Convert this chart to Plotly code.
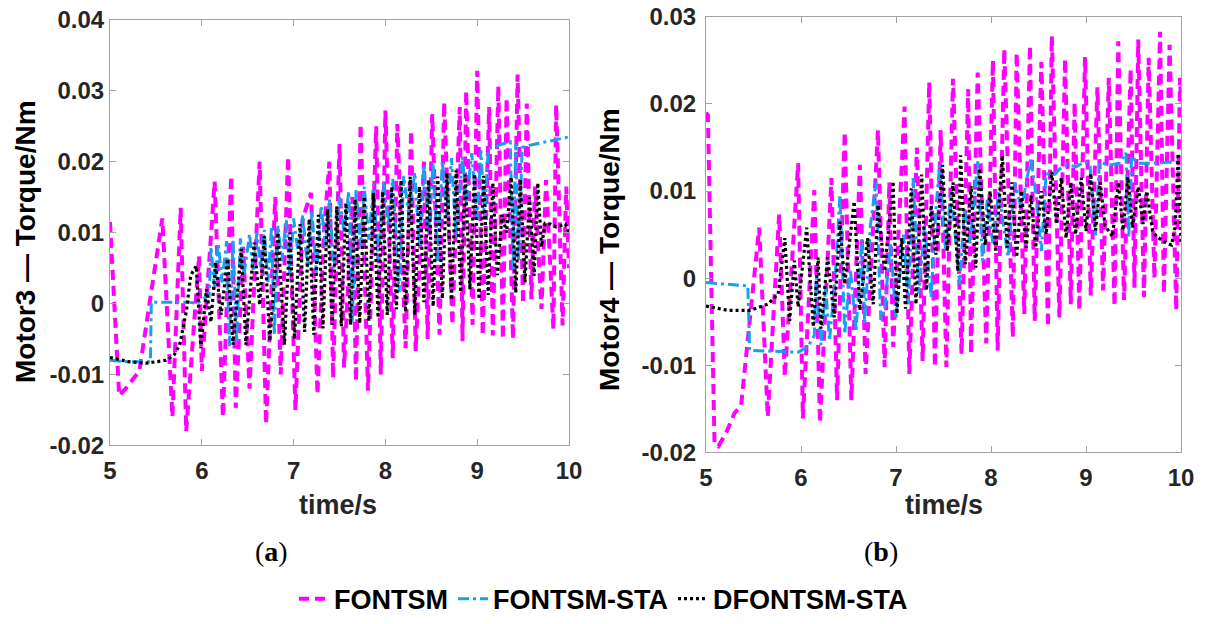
import plotly.graph_objects as go

# --- Data: (time [s], torque [Nm]) turning points ---

# Motor3 (a)
fontsm_m3 = [
    (5.00, 0.0115), (5.06, -0.0040), (5.10, -0.0130), (5.17, -0.0120), (5.32, -0.0095),
    (5.57, 0.0120), (5.68, -0.0160), (5.77, 0.0135), (5.83, -0.0180), (5.97, 0.0067),
    (6.00, -0.0095), (6.14, 0.0172), (6.23, -0.0160), (6.32, 0.0180), (6.37, -0.0147),
    (6.45, 0.0080), (6.52, -0.0120), (6.63, 0.0200), (6.70, -0.0170), (6.80, 0.0150),
    (6.86, -0.0100), (6.94, 0.0207), (7.02, -0.0150), (7.10, 0.0120), (7.19, 0.0156),
    (7.26, -0.0128), (7.33, 0.0100), (7.39, 0.0200), (7.43, -0.0105), (7.50, 0.0225),
    (7.55, -0.0090), (7.64, 0.0150), (7.68, -0.0110), (7.73, 0.0253), (7.81, -0.0123),
    (7.90, 0.0250), (7.95, -0.0100), (8.00, 0.0272), (8.08, -0.0077), (8.13, 0.0253),
    (8.22, -0.0063), (8.28, 0.0244), (8.33, -0.0067), (8.42, 0.0200), (8.46, -0.0050),
    (8.51, 0.0267), (8.59, -0.0044), (8.64, 0.0284), (8.73, -0.0030), (8.81, 0.0277),
    (8.84, -0.0053), (8.88, 0.0300), (8.95, -0.0030), (9.00, 0.0328), (9.06, -0.0045),
    (9.13, 0.0277), (9.17, -0.0045), (9.23, 0.0307), (9.28, -0.0050), (9.32, 0.0290),
    (9.39, -0.0050), (9.44, 0.0323), (9.50, 0.0000), (9.54, 0.0282), (9.59, 0.0006),
    (9.63, 0.0165), (9.70, -0.0008), (9.75, 0.0174), (9.83, -0.0036), (9.86, 0.0280),
    (9.93, -0.0031), (9.97, 0.0165), (10.00, 0.0050),
]
sta_m3 = [
    (5.00, -0.0080), (5.20, -0.0082), (5.44, -0.0082), (5.45, 0.0002), (5.86, 0.0002),
    (5.95, 0.0000), (6.05, 0.0010), (6.08, 0.0010), (6.10, 0.0080), (6.14, 0.0020),
    (6.18, 0.0085), (6.22, 0.0030), (6.27, 0.0088), (6.30, -0.0060), (6.34, 0.0090),
    (6.38, -0.0055), (6.42, 0.0092), (6.46, 0.0040), (6.52, 0.0098), (6.56, 0.0045),
    (6.60, 0.0100), (6.64, 0.0050), (6.68, 0.0104), (6.72, 0.0030), (6.76, 0.0108),
    (6.79, -0.0044), (6.83, 0.0110), (6.87, 0.0060), (6.92, 0.0118), (6.96, 0.0040),
    (7.00, 0.0120), (7.05, 0.0070), (7.10, 0.0125), (7.15, 0.0050), (7.20, 0.0130),
    (7.25, 0.0040), (7.30, 0.0138), (7.35, 0.0080), (7.39, 0.0147), (7.44, 0.0050),
    (7.50, 0.0150), (7.55, 0.0100), (7.60, 0.0158), (7.64, -0.0026), (7.68, 0.0160),
    (7.73, 0.0080), (7.77, 0.0165), (7.82, 0.0090), (7.87, 0.0168), (7.92, 0.0060),
    (7.98, 0.0172), (8.03, 0.0110), (8.08, 0.0176), (8.15, 0.0016), (8.20, 0.0180),
    (8.26, 0.0120), (8.32, 0.0185), (8.37, 0.0080), (8.42, 0.0195), (8.47, 0.0100),
    (8.52, 0.0198), (8.57, 0.0060), (8.62, 0.0200), (8.67, 0.0120), (8.72, 0.0205),
    (8.77, 0.0090), (8.84, 0.0207), (8.88, 0.0140), (8.94, 0.0212), (9.00, 0.0118),
    (9.04, 0.0216), (9.08, 0.0120), (9.12, 0.0218), (9.20, 0.0222), (9.30, 0.0226),
    (9.36, 0.0228), (9.39, 0.0048), (9.42, 0.0225), (9.45, 0.0060), (9.49, 0.0220),
    (9.60, 0.0224), (9.75, 0.0228), (9.90, 0.0232), (10.00, 0.0235),
]
dsta_m3 = [
    (5.00, -0.0076), (5.20, -0.0082), (5.40, -0.0084), (5.61, -0.0080), (5.70, -0.0072),
    (5.76, -0.0058), (5.83, -0.0012), (5.88, 0.0040), (5.94, 0.0053), (5.99, -0.0063),
    (6.05, 0.0020), (6.10, -0.0026), (6.15, 0.0058), (6.21, -0.0016), (6.28, 0.0063),
    (6.34, -0.0058), (6.43, 0.0077), (6.48, -0.0058), (6.57, 0.0086), (6.63, -0.0002),
    (6.68, 0.0095), (6.74, -0.0053), (6.83, 0.0100), (6.90, -0.0058), (6.96, 0.0100),
    (7.01, -0.0050), (7.07, 0.0112), (7.12, -0.0040), (7.17, 0.0119), (7.22, -0.0044),
    (7.27, 0.0125), (7.32, -0.0035), (7.37, 0.0133), (7.42, -0.0030), (7.47, 0.0137),
    (7.52, -0.0032), (7.57, 0.0142), (7.62, -0.0030), (7.67, 0.0147), (7.72, -0.0028),
    (7.77, 0.0151), (7.82, -0.0025), (7.87, 0.0156), (7.92, -0.0020), (7.97, 0.0158),
    (8.02, -0.0016), (8.07, 0.0165), (8.12, -0.0008), (8.17, 0.0174), (8.22, -0.0012),
    (8.27, 0.0179), (8.32, -0.0016), (8.37, 0.0165), (8.42, 0.0002), (8.47, 0.0174),
    (8.52, -0.0004), (8.57, 0.0179), (8.62, 0.0007), (8.67, 0.0184), (8.72, 0.0005),
    (8.77, 0.0188), (8.82, 0.0016), (8.87, 0.0182), (8.92, 0.0020), (8.97, 0.0183),
    (9.02, 0.0006), (9.07, 0.0180), (9.12, 0.0012), (9.17, 0.0170), (9.22, 0.0040),
    (9.27, 0.0125), (9.32, 0.0100), (9.37, 0.0178), (9.42, 0.0015), (9.47, 0.0175),
    (9.52, 0.0030), (9.57, 0.0150), (9.62, 0.0039), (9.66, 0.0170), (9.70, 0.0080),
    (9.74, 0.0113), (9.80, 0.0112), (9.86, 0.0108), (9.92, 0.0110), (9.96, 0.0112),
    (10.00, 0.0100),
]

# Motor4 (b)
fontsm_m4 = [
    (5.00, 0.0190), (5.02, 0.0187), (5.09, -0.0190), (5.13, -0.0193), (5.21, -0.0178),
    (5.30, -0.0155), (5.37, -0.0146), (5.56, 0.0058), (5.65, -0.0159), (5.77, 0.0073),
    (5.83, -0.0113), (5.97, 0.0132), (6.02, -0.0161), (6.14, 0.0101), (6.20, -0.0166),
    (6.32, 0.0115), (6.38, -0.0140), (6.46, 0.0168), (6.53, -0.0140), (6.62, 0.0130),
    (6.68, -0.0110), (6.81, 0.0170), (6.88, -0.0102), (6.93, 0.0110), (6.97, -0.0079),
    (7.09, 0.0197), (7.14, -0.0110), (7.22, 0.0150), (7.28, -0.0095), (7.35, 0.0225),
    (7.41, -0.0102), (7.47, 0.0170), (7.53, -0.0102), (7.60, 0.0229), (7.69, -0.0087),
    (7.76, 0.0217), (7.79, -0.0087), (7.86, 0.0236), (7.95, -0.0075), (8.02, 0.0250),
    (8.07, -0.0083), (8.14, 0.0263), (8.23, -0.0068), (8.27, 0.0259), (8.35, -0.0041),
    (8.41, 0.0267), (8.46, -0.0049), (8.53, 0.0248), (8.60, -0.0056), (8.64, 0.0278),
    (8.72, -0.0045), (8.78, 0.0252), (8.84, -0.0030), (8.88, 0.0202), (8.93, -0.0037),
    (8.99, 0.0254), (9.05, -0.0020), (9.12, 0.0219), (9.18, -0.0014), (9.24, 0.0230),
    (9.30, -0.0032), (9.34, 0.0272), (9.40, -0.0025), (9.47, 0.0240), (9.51, -0.0011),
    (9.55, 0.0274), (9.61, -0.0022), (9.66, 0.0253), (9.72, 0.0000), (9.78, 0.0283),
    (9.82, -0.0018), (9.88, 0.0268), (9.95, -0.0037), (9.99, 0.0230), (10.00, 0.0200),
]
sta_m4 = [
    (5.00, -0.0005), (5.44, -0.0009), (5.46, -0.0083), (5.97, -0.0085), (6.07, -0.0079),
    (6.14, -0.0066), (6.16, 0.0000), (6.21, -0.0077), (6.26, -0.0010), (6.30, -0.0072),
    (6.36, 0.0000), (6.41, 0.0096), (6.46, -0.0064), (6.52, 0.0010), (6.58, -0.0060),
    (6.64, 0.0045), (6.67, -0.0052), (6.73, 0.0060), (6.79, 0.0111), (6.84, -0.0048),
    (6.88, -0.0037), (6.94, 0.0040), (7.00, -0.0045), (7.08, 0.0050), (7.13, -0.0030),
    (7.18, 0.0115), (7.24, -0.0018), (7.30, 0.0060), (7.37, -0.0022), (7.42, 0.0080),
    (7.46, 0.0130), (7.52, 0.0034), (7.58, 0.0100), (7.67, -0.0007), (7.72, 0.0080),
    (7.78, 0.0040), (7.86, 0.0134), (7.91, 0.0020), (7.96, 0.0090), (8.02, 0.0040),
    (8.08, 0.0100), (8.18, 0.0024), (8.25, 0.0110), (8.32, 0.0080), (8.42, 0.0138),
    (8.48, 0.0090), (8.53, 0.0031), (8.58, 0.0120), (8.67, 0.0119), (8.72, 0.0125),
    (8.80, 0.0130), (8.90, 0.0128), (8.97, 0.0133), (9.04, 0.0132), (9.10, 0.0049),
    (9.14, 0.0133), (9.25, 0.0130), (9.35, 0.0132), (9.42, 0.0144), (9.45, 0.0047),
    (9.48, 0.0140), (9.55, 0.0132), (9.70, 0.0132), (9.85, 0.0133), (10.00, 0.0133),
]
dsta_m4 = [
    (5.00, -0.0032), (5.23, -0.0037), (5.46, -0.0037), (5.65, -0.0030), (5.76, -0.0018),
    (5.83, 0.0046), (5.88, -0.0049), (5.93, 0.0020), (5.97, -0.0033), (6.06, 0.0058),
    (6.13, -0.0056), (6.18, 0.0024), (6.21, -0.0058), (6.28, 0.0024), (6.35, -0.0045),
    (6.41, 0.0065), (6.46, -0.0007), (6.56, 0.0088), (6.62, -0.0037), (6.70, 0.0046),
    (6.76, -0.0030), (6.81, 0.0084), (6.88, 0.0008), (6.97, 0.0111), (7.01, -0.0041),
    (7.06, 0.0046), (7.10, -0.0035), (7.16, 0.0103), (7.21, -0.0030), (7.27, 0.0119),
    (7.32, -0.0014), (7.37, 0.0084), (7.42, 0.0027), (7.49, 0.0130), (7.54, 0.0031),
    (7.60, 0.0110), (7.65, 0.0008), (7.68, 0.0141), (7.73, 0.0016), (7.79, 0.0106),
    (7.84, 0.0012), (7.88, 0.0126), (7.94, 0.0038), (7.99, 0.0100), (8.05, 0.0030),
    (8.12, 0.0141), (8.17, 0.0035), (8.22, 0.0110), (8.27, 0.0024), (8.32, 0.0100),
    (8.37, 0.0035), (8.42, 0.0095), (8.47, 0.0035), (8.53, 0.0100), (8.58, 0.0050),
    (8.64, 0.0122), (8.69, 0.0062), (8.74, 0.0115), (8.79, 0.0046), (8.84, 0.0110),
    (8.89, 0.0050), (8.95, 0.0115), (9.00, 0.0054), (9.05, 0.0120), (9.10, 0.0055),
    (9.15, 0.0110), (9.20, 0.0060), (9.28, 0.0048), (9.34, 0.0110), (9.39, 0.0055),
    (9.44, 0.0116), (9.49, 0.0058), (9.55, 0.0105), (9.60, 0.0062), (9.64, 0.0100),
    (9.70, 0.0055), (9.74, 0.0048), (9.85, 0.0040), (9.90, 0.0038), (9.94, 0.0060),
    (9.97, 0.0143), (10.00, 0.0040),
]

series_names = ["FONTSM", "FONTSM-STA", "DFONTSM-STA"]
x_ticks = [5, 6, 7, 8, 9, 10]
y_ticks_a = [-0.02, -0.01, 0, 0.01, 0.02, 0.03, 0.04]
y_text_a = ["-0.02", "-0.01", "0", "0.01", "0.02", "0.03", "0.04"]
y_ticks_b = [-0.02, -0.01, 0, 0.01, 0.02, 0.03]
y_text_b = ["-0.02", "-0.01", "0", "0.01", "0.02", "0.03"]

# --- Styles ---
W, H = 1207, 624
styles = [
    dict(color="#ff00ff", width=4, dash="10px,6px"),
    dict(color="#1a9ff0", width=3, dash="11px,4px,3px,4px"),
    dict(color="#000000", width=3.2, dash="3px,3px"),
]
sans = "Liberation Sans, Arial, sans-serif"
grey_txt = "#262626"
frame = "#a3a3a3"

fig = go.Figure()

for panel, data in enumerate([[fontsm_m3, sta_m3, dsta_m3], [fontsm_m4, sta_m4, dsta_m4]]):
    suffix = "" if panel == 0 else "2"
    for name, pts, st in zip(series_names, data, styles):
        fig.add_trace(go.Scatter(
            x=[p[0] for p in pts],
            y=[p[1] for p in pts],
            mode="lines",
            name=name,
            legendgroup=name,
            showlegend=(panel == 0),
            line=st,
            xaxis="x" + suffix,
            yaxis="y" + suffix,
        ))


def px_dom(a, b, total):
    return [a / total, b / total]


axis_common = dict(
    showgrid=False, zeroline=False, showline=True, mirror="ticks",
    linecolor=frame, linewidth=1, ticks="inside", ticklen=6, tickcolor=frame,
    tickfont=dict(family=sans, size=24, color=grey_txt, weight="bold"),
)

fig.update_layout(
    template="none",
    width=W, height=H,
    margin=dict(l=0, r=0, t=0, b=0),
    paper_bgcolor="white", plot_bgcolor="white",
    showlegend=True,
    xaxis=dict(domain=px_dom(110, 569, W), range=[5, 10], tickvals=x_ticks,
               anchor="y", ticklabelstandoff=4, **axis_common),
    yaxis=dict(domain=[(H - 449) / H, (H - 20) / H], range=[-0.02, 0.04],
               tickvals=y_ticks_a, ticktext=y_text_a, anchor="x",
               ticklabelstandoff=0, **axis_common),
    xaxis2=dict(domain=px_dom(706, 1181, W), range=[5, 10], tickvals=x_ticks,
                anchor="y2", ticklabelstandoff=4, **axis_common),
    yaxis2=dict(domain=[(H - 456) / H, (H - 17) / H], range=[-0.02, 0.03],
                tickvals=y_ticks_b, ticktext=y_text_b, anchor="x2",
                ticklabelstandoff=4, **axis_common),
    legend=dict(
        orientation="h", x=0.5, xanchor="center", y=(H - 604) / H, yanchor="middle",
        font=dict(family=sans, size=27, color="black", weight="bold"),
        bgcolor="rgba(0,0,0,0)", itemwidth=30,
    ),
)

# --- Axis titles and sub-captions ---
notes = [
    dict(text="Motor3 — Torque/Nm", x=25, y=244, textangle=-90, size=28, color="black"),
    dict(text="Motor4 — Torque/Nm", x=610, y=252, textangle=-90, size=28, color="black"),
    dict(text="time/s", x=338, y=509, textangle=0, size=27, color=grey_txt),
    dict(text="time/s", x=944, y=509, textangle=0, size=27, color=grey_txt),
]
for n in notes:
    fig.add_annotation(
        text=n["text"], x=n["x"] / W, y=(H - n["y"]) / H, xref="paper", yref="paper",
        xanchor="center", yanchor="middle", showarrow=False, textangle=n["textangle"],
        font=dict(family=sans, size=n["size"], color=n["color"], weight="bold"),
    )

for label, xc in [("a", 271), ("b", 881)]:
    fig.add_annotation(
        text="(<b>" + label + "</b>)", x=xc / W, y=(H - 556) / H, xref="paper", yref="paper",
        xanchor="center", yanchor="middle", showarrow=False,
        font=dict(family="Liberation Serif, serif", size=28, color="black"),
    )

# page body has a default 8px margin; drop it so the figure sits at (0, 0)
fig.write_html(
    "out.html",
    config={"displayModeBar": False},
    post_script="document.body.style.margin = '0';",
)
